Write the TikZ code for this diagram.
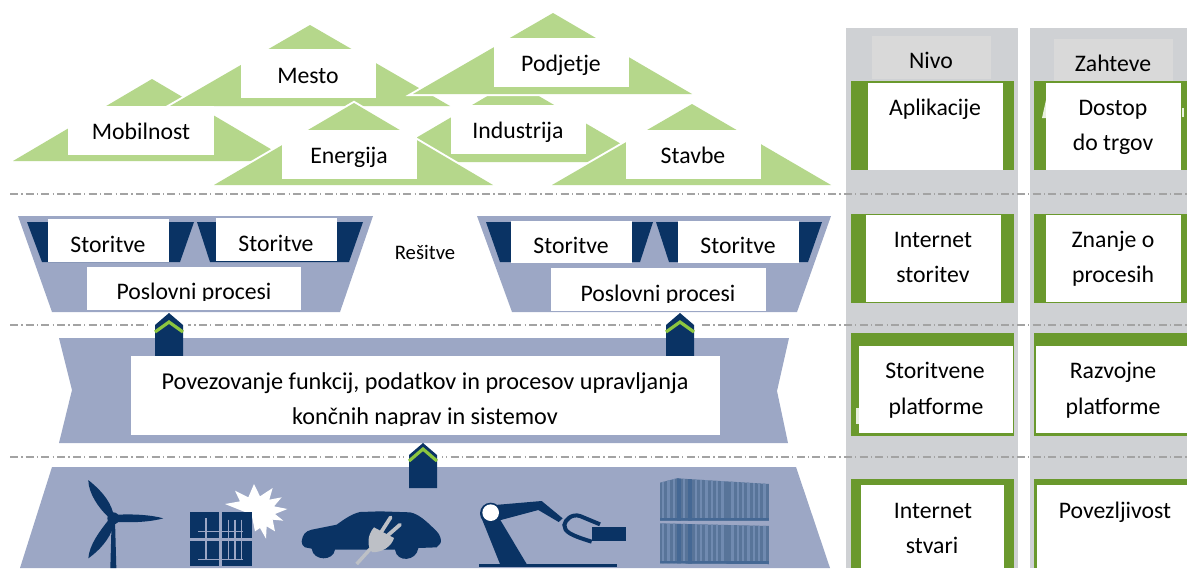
\documentclass[tikz,border=0pt]{standalone}
\usepackage{fontspec}
\setmainfont{Carlito}
\definecolor{trig}{HTML}{B5D78B}
\definecolor{trap}{HTML}{9CA7C5}
\definecolor{navy}{HTML}{0A3364}
\definecolor{colg}{HTML}{CFD1D4}
\definecolor{heads}{HTML}{D9D9D9}
\definecolor{leaf}{HTML}{6A992D}
\definecolor{chev}{HTML}{8CC63F}
\definecolor{plug}{HTML}{BDC0C6}
\definecolor{cont}{HTML}{587499}
\definecolor{contl}{HTML}{708AB0}
\definecolor{contd}{HTML}{456894}
\newcommand{\wbox}[4]{\fill[white] (#1,#2) rectangle (#3,#4);}
\tikzset{
  txt/.style={anchor=base,inner sep=0pt,text=black,font=\fontsize{17.8}{20}\selectfont},
  wide/.style={txt,font=\fontsize{18.15}{20}\selectfont},
  tri/.style={fill=trig,preaction={draw=white,line width=3pt,line join=miter}},
  seam/.style={draw=gray!72,line width=1.4pt,dash pattern=on 6pt off 2.4pt on 1pt off 2.4pt},
  chevron/.style={draw=chev,line width=2.4pt,line join=miter},
}
\begin{document}
\begin{tikzpicture}[x=0.75pt,y=-0.75pt]
\useasboundingbox (0,0) rectangle (1187,568);
% right columns
\fill[colg] (846,28) rectangle (1018,568);
\fill[colg] (1030,28) rectangle (1187,568);
\fill[heads] (872,36) rectangle (991,79);
\fill[heads] (1054,39) rectangle (1173,82);
\fill[leaf] (851,81) rectangle (1014,170);
\fill[leaf] (1034,81) rectangle (1187,170);
\fill[leaf] (851,214) rectangle (1014,303);
\fill[leaf] (1034,214) rectangle (1187,303);
\fill[leaf] (851,333) rectangle (1014,436);
\fill[leaf] (1034,333) rectangle (1187,436);
\fill[leaf] (851,479) rectangle (1014,568);
\fill[leaf] (1034,479) rectangle (1187,568);
\fill[white!85!leaf] (1042,118) -- (1046,100) -- (1046,118) -- cycle;
\fill[white!85!leaf] (1182,108) rectangle (1184,117);
\fill[white!85!leaf] (856,408) rectangle (859,424);
\wbox{868}{83}{1003}{170}
\wbox{1046}{83}{1181}{170}
\wbox{866}{215}{1001}{302}
\wbox{1046}{215}{1181}{302}
\wbox{859}{346}{1013}{433}
\wbox{1036}{346}{1187}{433}
\wbox{861}{485}{1004}{568}
\wbox{1037}{485}{1187}{568}
% seams
\coordinate (s1a) at (10,194); \coordinate (s1b) at (1187,194);
\coordinate (s2a) at (10,325); \coordinate (s2b) at (1187,325);
\coordinate (s3a) at (10,457); \coordinate (s3b) at (1187,457);
\draw[seam] (s1a) -- (s1b);
\draw[seam] (s2a) -- (s2b);
\draw[seam] (s3a) -- (s3b);
% triangles
\path[tri] (152,79) -- (13,161) -- (291,161) -- cycle;
\path[tri] (310,25) -- (170,106) -- (450,106) -- cycle;
\path[tri] (513,81) -- (375,162) -- (652,162) -- cycle;
\path[tri] (553,13) -- (413,94) -- (692,94) -- cycle;
\path[tri] (354,103) -- (214,185) -- (493,185) -- cycle;
\path[tri] (692,104) -- (552,185) -- (831,185) -- cycle;
\wbox{68}{106}{214}{155}
\wbox{241}{49}{376}{98}
\wbox{282}{130}{417}{179}
\wbox{494}{38}{629}{87}
\wbox{451}{105}{586}{154}
\wbox{626}{130}{761}{179}
\node[txt] (mob) at (141,139) {Mobilnost};
\node[txt] (mes) at (308,83) {Mesto};
\node[txt] (ene) at (349,163) {Energija};
\node[txt] (pod) at (561,71) {Podjetje};
\node[txt] (ind) at (518,138) {Industrija};
\node[txt] (sta) at (693,163) {Stavbe};
% service trapezoids
\fill[trap] (18,216) -- (373,216) -- (340,312) -- (52,312) -- cycle;
\fill[trap] (477,216) -- (831,216) -- (797,312) -- (512,312) -- cycle;
\fill[navy] (27,222) -- (194,222) -- (180,262) -- (42,262) -- cycle;
\fill[navy] (197,222) -- (363,222) -- (349,262) -- (210,262) -- cycle;
\fill[navy] (486,222) -- (653,222) -- (640,262) -- (500,262) -- cycle;
\fill[navy] (656,222) -- (822,222) -- (808,262) -- (669,262) -- cycle;
\wbox{48}{219}{169}{262}
\wbox{216}{218}{337}{261}
\wbox{511}{221}{632}{263}
\wbox{678}{221}{799}{263}
\wbox{87}{267}{301}{310}
\wbox{551}{268}{766}{311}
\node[txt] (st1) at (108,252) {Storitve};
\node[txt] (st2) at (276,251) {Storitve};
\node[txt] (st3) at (571,253) {Storitve};
\node[txt] (st4) at (738,253) {Storitve};
\begin{scope}
\clip (87,267) rectangle (301,300);
\node[txt] (pp1) at (194,299) {Poslovni procesi};
\end{scope}
\begin{scope}
\clip (551,268) rectangle (766,302);
\node[txt] (pp2) at (658,301) {Poslovni procesi};
\end{scope}
\node[txt,font=\fontsize{15.5}{18}\selectfont] (res) at (425,259) {Rešitve};
% middle band
\fill[trap] (59,338) -- (789,338) -- (777,391) -- (788,443) -- (59,443) -- (72,390) -- cycle;
% house arrows
\fill[white] (150,322) rectangle (188,328);
\fill[white] (661,322) rectangle (699,328);
\fill[white] (404,454) rectangle (442,460);
\fill[navy] (155,325) -- (169,313) -- (183,325) -- (183,356) -- (155,356) -- cycle;
\draw[chevron] (155,332) -- (169,322) -- (183,332);
\fill[navy] (666,325) -- (680,313) -- (694,325) -- (694,356) -- (666,356) -- cycle;
\draw[chevron] (666,332) -- (680,322) -- (694,332);
% bottom band
\fill[trap] (52,467) -- (796,467) -- (830,568) -- (20,568) -- cycle;
\fill[navy] (409,455) -- (423,443) -- (437,455) -- (437,488) -- (409,488) -- cycle;
\draw[chevron] (409,461) -- (423,449) -- (437,461);
\wbox{131}{356}{720}{435}
\node[wide] (l1) at (425,389) {Povezovanje funkcij, podatkov in procesov upravljanja};
\begin{scope}
\clip (131,356) rectangle (720,425);
\node[wide] (l2) at (425,424) {končnih naprav in sistemov};
\end{scope}
% column texts
\node[txt] (c1) at (931,68) {Nivo};
\node[txt] (c2) at (1113,71) {Zahteve};
\node[txt] (a1) at (935,115) {Aplikacije};
\node[txt] (b1) at (1113,115) {Dostop};
\node[txt] (b2) at (1113,150) {do trgov};
\node[txt] (a2) at (933,247) {Internet};
\node[txt] (a3) at (933,282) {storitev};
\node[txt] (b3) at (1113,247) {Znanje o};
\node[txt] (b4) at (1113,282) {procesih};
\node[txt] (a4) at (935,378) {Storitvene};
\node[txt] (a5) at (936,414) {platforme};
\node[txt] (b5) at (1113,378) {Razvojne};
\node[txt] (b6) at (1113,414) {platforme};
\node[txt] (a6) at (933,518) {Internet};
\node[txt] (a7) at (932,553) {stvari};
\node[txt] (b7) at (1115,518) {Povezljivost};
% wind turbine
\begin{scope}[shift={(0,430)},scale=1/3]
\fill[navy] (331,414) -- (335,270) -- (345,270) -- (349,414) -- cycle;
\fill[navy] (340,250) .. controls (328,205) and (295,175) .. (265,150) .. controls (265,190) and (297,235) .. (324,260) -- cycle;
\fill[navy] (352,254) .. controls (400,252) and (450,254) .. (490,265) .. controls (450,276) and (400,278) .. (352,276) -- cycle;
\fill[navy] (324,272) .. controls (298,305) and (268,345) .. (265,385) .. controls (297,362) and (328,330) .. (342,285) -- cycle;
\fill[navy] (340,265) circle (18);
\end{scope}
% sun, panel, car
\begin{scope}[shift={(180,478)},scale=1/3]
\fill[white] (135,78) -- (180,70) -- (165,38) -- (205,58) -- (222,18) -- (240,55) -- (278,30) -- (268,65) -- (305,58) -- (282,85) -- (322,93) -- (285,108) -- (310,128) -- (278,125) -- (285,160) -- (260,145) -- (258,182) -- (240,150) -- (225,160) -- (215,110) -- cycle;
\fill[navy] (30,102) rectangle (118,180);
\fill[navy] (127,102) rectangle (217,180);
\fill[navy] (30,188) rectangle (118,265);
\fill[navy] (127,188) rectangle (217,265);
\draw[trap,line width=.8pt] (55,160) -- (190,160) (55,245) -- (190,245)
  (78,120) -- (78,245) (145,125) -- (145,245) (165,125) -- (165,245) (185,125) -- (185,245);
\fill[navy] (365,190) .. controls (368,170) and (375,160) .. (395,155) -- (470,140) .. controls (495,122) and (515,108) .. (540,102) -- (600,100) -- (690,103) .. controls (715,108) and (735,125) .. (770,160) .. controls (780,170) and (785,185) .. (782,195) -- (770,208) -- (715,210) .. controls (710,250) and (650,255) .. (645,215) -- (465,215) .. controls (460,250) and (400,250) .. (395,212) -- (375,208) .. controls (368,204) and (365,198) .. (365,190) -- cycle;
\draw[plug,line width=2.8pt,line cap=round] (605,160) -- (632,118);
\draw[plug,line width=2.8pt,line cap=round] (620,175) -- (660,140);
\draw[plug,line width=2.6pt] (578,205) -- (530,258);
\fill[plug] (582,148) -- (642,180) .. controls (635,205) and (605,225) .. (576,222) .. controls (560,205) and (562,170) .. (582,148) -- cycle;
\end{scope}
% robot
\begin{scope}[shift={(470,490)},scale=1/3]
\fill[navy] (28,221) rectangle (440,230);
\fill[navy] (35,85) -- (88,85) -- (170,222) -- (90,222) -- cycle;
\fill[navy] (75,45) -- (215,33) -- (278,85) -- (266,96) -- (205,60) -- (85,92) -- cycle;
\fill[navy] (62,70) circle (32);
\fill[white] (62,68) circle (25);
\draw[navy,line width=3pt] (390,103) -- (330,78) .. controls (305,70) and (285,90) .. (283,105) .. controls (283,125) and (300,135) .. (365,155);
\fill[navy] (365,112) rectangle (467,153);
\end{scope}
% containers
\begin{scope}[shift={(650,470)},scale=1/3]
\begin{scope}
\clip (30,38) -- (80,25) -- (358,42) -- (358,152) -- (30,152) -- cycle;
\fill[cont] (30,20) rectangle (358,152);
\foreach \x in {36,52,68,98,134,150,166,182,198,214,244,260,276,292,308,324,340}
  \fill[contl] (\x,20) rectangle ++(7,135);
\fill[contd] (82,20) rectangle (92,152);
\fill[contd] (115,20) rectangle (125,152);
\fill[contd] (30,144) rectangle (358,152);
\end{scope}
\begin{scope}
\clip (30,160) -- (358,168) -- (358,282) -- (30,280) -- cycle;
\fill[cont] (30,155) rectangle (358,285);
\foreach \x in {36,52,68,98,134,150,166,182,198,214,244,260,276,292,308,324,340}
  \fill[contl] (\x,155) rectangle ++(7,130);
\fill[contd] (82,155) rectangle (92,285);
\fill[contd] (115,155) rectangle (125,285);
\fill[contd] (30,272) rectangle (358,285);
\end{scope}
\end{scope}
\end{tikzpicture}
\end{document}
